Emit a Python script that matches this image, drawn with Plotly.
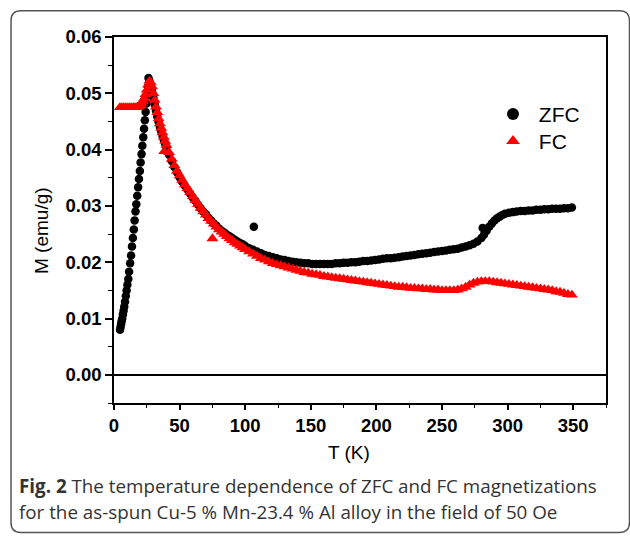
import plotly.graph_objects as go

# ---------------- data ----------------
zfc_T = [4.6, 5.0, 5.4, 5.8, 6.3, 6.8, 7.3, 7.8, 8.4, 9.0, 9.6, 10.2, 10.9, 11.5, 12.3, 13.0,
         13.7, 14.4, 15.1, 15.7, 16.4, 17.0, 17.7, 18.4, 19.0, 19.7, 20.3, 21.0, 21.6, 22.3,
         22.9, 23.5, 24.1, 24.7, 25.3, 25.9, 26.3,
         27, 28, 29, 30, 31, 32, 33, 34, 35, 36, 37, 38, 39, 40, 42, 44, 46, 48, 50, 52, 54,
         56, 58, 60, 62, 64, 66, 68, 70, 72, 74, 76, 78, 80, 82, 84, 86, 88, 90, 92, 94, 96,
         98, 100, 103, 106, 109, 112, 115, 118, 121, 124, 127, 130, 133, 136, 139, 142, 145,
         148, 151, 154, 157, 160, 163, 166, 169, 172, 175, 178, 181, 184, 187, 190, 193, 196,
         199, 202, 205, 208, 211, 214, 217, 220, 223, 226, 229, 232, 235, 238, 241, 244, 247,
         250, 253, 256, 259, 262, 265, 268, 271, 274, 277, 280, 282, 284, 286, 288, 290, 292,
         294, 296, 298, 301, 304, 307, 310, 313, 316, 319, 322, 325, 328, 331, 334, 337, 340,
         343, 346, 349,
         106.6, 281]
zfc_M = [0.0080, 0.0085, 0.0090, 0.0095, 0.0100, 0.0107, 0.0114, 0.0121, 0.0130, 0.0140,
         0.0150, 0.0160, 0.0170, 0.0183, 0.0198, 0.0212, 0.0228, 0.0243, 0.0258, 0.0274,
         0.0290, 0.0303, 0.0318, 0.0333, 0.0348, 0.0362, 0.0377, 0.0392, 0.0407, 0.0422,
         0.0437, 0.0452, 0.0467, 0.0482, 0.0497, 0.0512, 0.0527,
         0.0522, 0.0513, 0.0503, 0.0492, 0.0480, 0.0469, 0.0459, 0.0449, 0.0440, 0.0432,
         0.0424, 0.0417, 0.0410, 0.0404, 0.0391, 0.0380, 0.0369, 0.0360, 0.0351, 0.0343,
         0.0336, 0.0329, 0.0322, 0.0315, 0.0309, 0.0302, 0.0296, 0.0290, 0.0285, 0.0279,
         0.0274, 0.0269, 0.0265, 0.0260, 0.0256, 0.0253, 0.0249, 0.0246, 0.0243, 0.0240,
         0.0237, 0.0234, 0.0232, 0.0229, 0.0225, 0.0222, 0.0219, 0.0216, 0.0213, 0.0211,
         0.0209, 0.0207, 0.0205, 0.0204, 0.0202, 0.0201, 0.0200, 0.0199, 0.0198, 0.0198,
         0.0197, 0.0197, 0.0197, 0.0197, 0.0197, 0.0197, 0.0198, 0.0198, 0.0199, 0.0199,
         0.0200, 0.0200, 0.0201, 0.0202, 0.0202, 0.0203, 0.0204, 0.0205, 0.0206, 0.0207,
         0.0207, 0.0208, 0.0209, 0.0210, 0.0211, 0.0212, 0.0213, 0.0214, 0.0215, 0.0216,
         0.0217, 0.0218, 0.0219, 0.0220, 0.0221, 0.0222, 0.0223, 0.0224, 0.0226, 0.0228,
         0.0230, 0.0233, 0.0237, 0.0243, 0.0249, 0.0256, 0.0263, 0.0269, 0.0274, 0.0278,
         0.0281, 0.0284, 0.0286, 0.0288, 0.0289, 0.0290, 0.0291, 0.0291, 0.0292, 0.0292,
         0.0293, 0.0293, 0.0294, 0.0294, 0.0295, 0.0295, 0.0295, 0.0296, 0.0296, 0.0297,
         0.0263, 0.0261]

fc_T = [4.5, 6, 7.5, 9, 10.5, 12, 13.5, 15, 16, 17, 18, 19, 20, 21, 22, 23, 24, 25, 26, 27,
        28, 29, 30, 31, 32, 33, 34, 35, 36, 37, 38, 39, 40, 42, 44, 46, 48, 50, 52, 54, 56,
        58, 60, 62, 64, 66, 68, 70, 72, 74, 76, 78, 80, 82, 84, 86, 88, 90, 92, 94, 96, 98,
        100, 103, 106, 109, 112, 115, 118, 121, 124, 127, 130, 133, 136, 139, 142, 145, 148,
        151, 154, 157, 160, 163, 166, 169, 172, 175, 178, 181, 184, 187, 190, 193, 196, 199,
        202, 205, 208, 211, 214, 217, 220, 223, 226, 229, 232, 235, 238, 241, 244, 247, 250,
        253, 256, 259, 262, 265, 268, 271, 274, 277, 280, 283, 286, 289, 292, 295, 298, 301,
        304, 307, 310, 313, 316, 319, 322, 325, 328, 331, 334, 337, 340, 343, 346, 349,
        38.3, 75]
fc_M = [0.0475, 0.0475, 0.0475, 0.0475, 0.0475, 0.0475, 0.0475, 0.0475, 0.0475, 0.0475,
        0.0476, 0.0477, 0.0479, 0.0482, 0.0486, 0.0491, 0.0498, 0.0506, 0.0515, 0.0522,
        0.0519, 0.0512, 0.0500, 0.0488, 0.0476, 0.0466, 0.0455, 0.0446, 0.0438, 0.0430,
        0.0422, 0.0415, 0.0408, 0.0395, 0.0383, 0.0372, 0.0362, 0.0354, 0.0346, 0.0338,
        0.0331, 0.0324, 0.0317, 0.0310, 0.0303, 0.0296, 0.0290, 0.0284, 0.0278, 0.0273,
        0.0268, 0.0263, 0.0258, 0.0254, 0.0250, 0.0246, 0.0242, 0.0239, 0.0235, 0.0232,
        0.0229, 0.0226, 0.0223, 0.0219, 0.0215, 0.0211, 0.0207, 0.0204, 0.0201, 0.0198,
        0.0196, 0.0194, 0.0192, 0.0190, 0.0188, 0.0186, 0.0184, 0.0182, 0.0181, 0.0179,
        0.0178, 0.0177, 0.0175, 0.0174, 0.0173, 0.0172, 0.0171, 0.0170, 0.0169, 0.0168,
        0.0167, 0.0166, 0.0165, 0.0164, 0.0163, 0.0162, 0.0161, 0.0160, 0.0159, 0.0158,
        0.0157, 0.0156, 0.0156, 0.0155, 0.0154, 0.0154, 0.0153, 0.0153, 0.0152, 0.0152,
        0.0151, 0.0151, 0.0150, 0.0150, 0.0150, 0.0150, 0.0151, 0.0153, 0.0156, 0.0160,
        0.0163, 0.0165, 0.0166, 0.0166, 0.0166, 0.0165, 0.0164, 0.0163, 0.0162, 0.0161,
        0.0160, 0.0159, 0.0158, 0.0157, 0.0156, 0.0155, 0.0154, 0.0153, 0.0152, 0.0151,
        0.0150, 0.0148, 0.0147, 0.0145, 0.0143, 0.0142,
        0.0397, 0.0242]

x_ticks = [0, 50, 100, 150, 200, 250, 300, 350]
y_ticks = [0.00, 0.01, 0.02, 0.03, 0.04, 0.05, 0.06]

# ---------------- layout helpers ----------------
W, H = 630, 536
L, R, T, B = 114, 606, 37.3, 402.7


def px(x):
    return (x - L) / (R - L)


def py(y):
    return (B - y) / (B - T)


fig = go.Figure()
fig.add_trace(go.Scatter(x=zfc_T, y=zfc_M, mode="markers", name=" ZFC", legend="legend",
                         marker=dict(symbol="circle", size=8.5, color="black", line=dict(width=0))))
fig.add_trace(go.Scatter(x=fc_T, y=fc_M, mode="markers", name=" FC", legend="legend2",
                         marker=dict(symbol="triangle-up", size=10.5, color="#ff0000", line=dict(width=0))))

tickfont = dict(family="Liberation Sans, Arial", size=18.5, color="black", weight="bold")
legfont = dict(family="Liberation Sans, Arial", size=21, color="black")

fig.update_layout(
    width=W, height=H,
    margin=dict(l=L, r=W - R, t=T, b=H - B),
    paper_bgcolor="white", plot_bgcolor="white",
    showlegend=True,
    legend=dict(x=px(493), y=py(94), xanchor="left", yanchor="top", font=legfont,
                bgcolor="rgba(0,0,0,0)", itemsizing="constant"),
    legend2=dict(x=px(493), y=py(121), xanchor="left", yanchor="top", font=legfont,
                 bgcolor="rgba(0,0,0,0)", itemsizing="constant"),
    xaxis=dict(range=[0, 375], tickvals=x_ticks, ticks="outside", ticklen=5, tickwidth=1.5,
               tickcolor="black", showline=True, linecolor="black", linewidth=1.5, mirror=True,
               showgrid=False, zeroline=False, tickfont=tickfont,
               minor=dict(dtick=25, tick0=0, ticks="outside", ticklen=3, tickwidth=1.2,
                          tickcolor="black", showgrid=False)),
    yaxis=dict(range=[-0.005, 0.06], tickvals=y_ticks, tickformat=".2f", ticks="outside",
               ticklen=7, tickwidth=1.5, tickcolor="black", showline=True, linecolor="black",
               linewidth=1.5, mirror=True, showgrid=False, zeroline=True, zerolinecolor="black",
               zerolinewidth=1.5, tickfont=tickfont,
               minor=dict(dtick=0.005, tick0=0, ticks="outside", ticklen=4, tickwidth=1.2,
                          tickcolor="black", showgrid=False)),
)

# axis titles
fig.add_annotation(x=px(349), y=py(452), xref="paper", yref="paper", text="T (K)",
                   showarrow=False, xanchor="center", yanchor="middle",
                   font=dict(family="Liberation Sans, Arial", size=19, color="black"))
fig.add_annotation(x=px(41), y=py(231), xref="paper", yref="paper", text="M (emu/g)",
                   textangle=-90, showarrow=False, xanchor="center", yanchor="middle",
                   font=dict(family="Liberation Sans, Arial", size=19, color="black"))

# caption
capfont = dict(family="Open Sans", size=18.8, color="#333333")
fig.add_annotation(x=px(17), y=py(486), xref="paper", yref="paper",
                   text="<b>Fig. 2</b> The temperature dependence of ZFC and FC magnetizations",
                   showarrow=False, xanchor="left", yanchor="middle", font=capfont)
fig.add_annotation(x=px(17), y=py(512), xref="paper", yref="paper",
                   text="for the as-spun Cu-5 % Mn-23.4 % Al alloy in the field of 50 Oe",
                   showarrow=False, xanchor="left", yanchor="middle", font=capfont)

# outer rounded border
x0, y0, x1, y1, r = px(11), py(11), px(629.5), py(532), 10
rx, ry = r / (R - L), r / (B - T)
path = (f"M {x0+rx},{y0} L {x1-rx},{y0} Q {x1},{y0} {x1},{y0-ry} "
        f"L {x1},{y1+ry} Q {x1},{y1} {x1-rx},{y1} L {x0+rx},{y1} Q {x0},{y1} {x0},{y1+ry} "
        f"L {x0},{y0-ry} Q {x0},{y0} {x0+rx},{y0} Z")
fig.add_shape(type="path", path=path, xref="paper", yref="paper",
              line=dict(color="#555555", width=1.5), layer="below")

fig.write_html("out.html")
